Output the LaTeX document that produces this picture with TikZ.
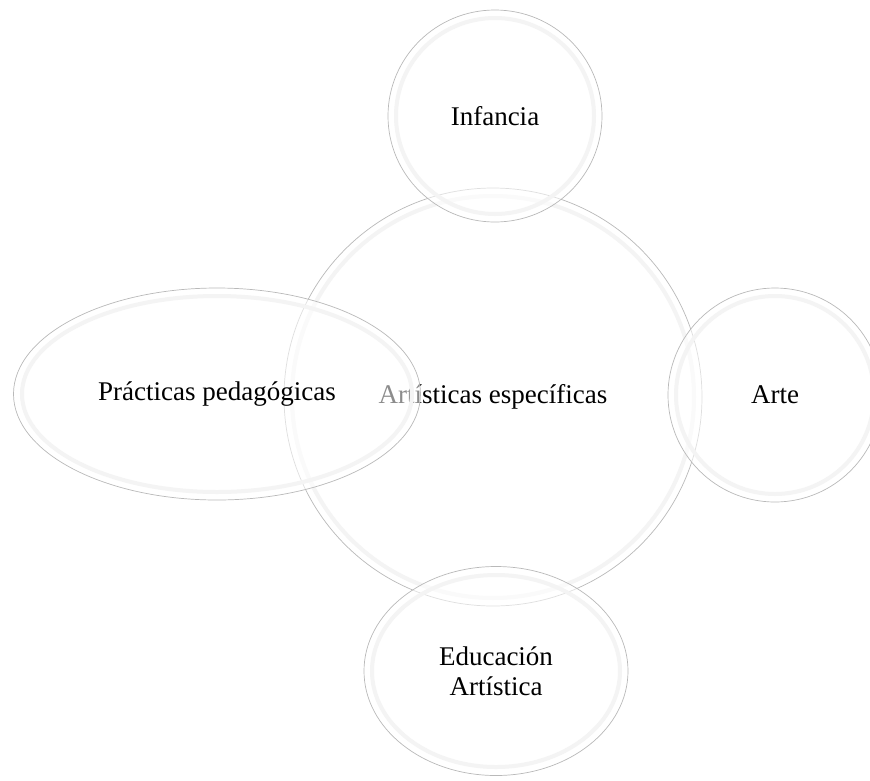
\documentclass[tikz,border=0pt]{standalone}
\usepackage{fontspec}
\setmainfont{Liberation Serif}
\usetikzlibrary{shapes.geometric}
\tikzset{
  bubble/.style={ellipse, draw=gray!55, line width=0.7pt, fill=white, fill opacity=0.55,
    text opacity=1, inner sep=0pt, align=center, font=\fontsize{27}{30}\selectfont},
  rim/.style={draw=gray!9, line width=4pt},
}
\begin{document}
\begin{tikzpicture}[x=1pt,y=-1pt]
	\useasboundingbox (0,0) rectangle (870,780);
	% centre
	\node[bubble, fill opacity=1, minimum width=418pt, minimum height=418pt] (centro) at (493,397) {Artísticas específicas};
	\draw[rim] (centro.center) ellipse [x radius=201pt, y radius=201pt];
	% satellites
	\node[bubble, minimum width=214pt, minimum height=212pt] (infancia) at (495,116) {Infancia};
	\draw[rim] (infancia.center) ellipse [x radius=99pt, y radius=98pt];
	\node[bubble, minimum width=214pt, minimum height=214pt] (arte) at (775,395) {Arte};
	\draw[rim] (arte.center) ellipse [x radius=99pt, y radius=99pt];
	\node[bubble, minimum width=264pt, minimum height=209pt] (educacion) at (496,671) {Educación\\Artística};
	\draw[rim] (educacion.center) ellipse [x radius=124pt, y radius=96pt];
	\node[bubble, minimum width=407pt, minimum height=212pt] (practicas) at (217,394) {Prácticas pedagógicas};
	\draw[rim] (practicas.center) ellipse [x radius=195pt, y radius=98pt];
\end{tikzpicture}
\end{document}
